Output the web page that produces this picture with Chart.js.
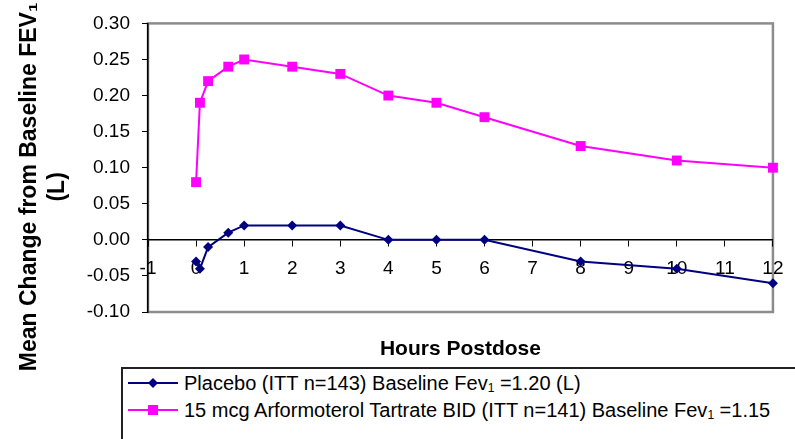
<!DOCTYPE html>
<html>
<head>
<meta charset="utf-8">
<script src="https://cdn.jsdelivr.net/npm/chart.js@4"></script>
<style>
  body { margin: 0; background: #fff; }
  #wrap { position: relative; width: 795px; height: 439px; overflow: hidden; }
  #legend {
    position: absolute; left: 121px; top: 367px; width: 720px; height: 100px;
    border: 2px solid #222; background: #fff;
    font-family: 'Liberation Sans', Arial, sans-serif; font-size: 20px; color: #000;
    padding-top: 1px;
  }
  #legend div { height: 27px; line-height: 27px; white-space: nowrap; }
  #legend svg { vertical-align: middle; margin: 0 6px 0 5px; position: relative; top: -2px; }
  #legend sub { font-size: 12px; vertical-align: -2px; }
</style>
</head>
<body>
<div id="wrap">
  <canvas id="lineChart" width="795" height="439"></canvas>
  <div id="legend"></div>
</div>
<script>
// hours after dose
var hours = [0, 0.08, 0.25, 0.67, 1, 2, 3, 4, 5, 6, 8, 10, 12];
var placebo = [-0.03, -0.04, -0.01, 0.01, 0.02, 0.02, 0.02, 0.00, 0.00, 0.00, -0.03, -0.04, -0.06];
var arformoterol = [0.08, 0.19, 0.22, 0.24, 0.25, 0.24, 0.23, 0.20, 0.19, 0.17, 0.13, 0.11, 0.10];
var seriesNames = [
    'Placebo (ITT n=143) Baseline Fev₁ =1.20 (L)',
    '15 mcg Arformoterol Tartrate BID (ITT n=141) Baseline Fev₁ =1.15'
];
var xMin = -1, xMax = 12, xStep = 1;
var yMin = -0.10, yMax = 0.30, yStep = 0.05;

function pts(ys) {
    return ys.map(function (v, i) { return { x: hours[i], y: v }; });
}

// grey frame around the plot area
var framePlugin = {
    id: 'frame',
    beforeDraw: function (chart) {
        var a = chart.chartArea, c = chart.ctx;
        c.save();
        c.strokeStyle = '#8c8c8c';
        c.lineWidth = 2.5;
        c.strokeRect(a.left, a.top, a.right - a.left, a.bottom - a.top);
        c.restore();
    }
};

var ctx = document.getElementById('lineChart').getContext('2d');
var myChart = new Chart(ctx, {
    type: 'line',
    data: {
        datasets: [
            {
                label: seriesNames[0],
                data: pts(placebo),
                borderColor: '#000080',
                backgroundColor: '#000080',
                borderWidth: 2,
                pointStyle: 'rectRot',
                pointRadius: 5,
                pointBorderWidth: 0,
                clip: false
            },
            {
                label: seriesNames[1],
                data: pts(arformoterol),
                borderColor: '#ff00ff',
                backgroundColor: '#ff00ff',
                borderWidth: 2,
                pointStyle: 'rect',
                pointRadius: 7,
                pointBorderWidth: 0,
                clip: false
            }
        ]
    },
    options: {
        responsive: false,
        animation: false,
        layout: { padding: { top: 22, right: 12, bottom: 127, left: 0 } },
        plugins: { legend: { display: false }, tooltip: { enabled: false } },
        scales: {
            x: {
                type: 'linear',
                position: { y: 0 },
                min: xMin, max: xMax,
                ticks: {
                    stepSize: xStep, autoSkip: false, maxRotation: 0, padding: 11.5,
                    color: '#000', font: { family: "'Liberation Sans', Arial, sans-serif", size: 19 }
                },
                grid: { drawOnChartArea: false, tickLength: 6, color: '#000' },
                border: { color: '#000', width: 1.5 },
                title: {
                    display: true, text: 'Hours Postdose', color: '#000',
                    font: { family: "'Liberation Sans', Arial, sans-serif", size: 21, weight: 'bold' },
                    padding: { top: 45, bottom: 0 }
                }
            },
            y: {
                min: yMin, max: yMax,
                afterFit: function (scale) { scale.width = 148; },
                ticks: {
                    stepSize: yStep, padding: 12, color: '#000',
                    font: { family: "'Liberation Sans', Arial, sans-serif", size: 19 },
                    callback: function (v) { return v.toFixed(2); }
                },
                grid: { drawOnChartArea: false, tickLength: 6, color: '#000' },
                border: { color: '#000', width: 1.5 },
                title: {
                    display: true, color: '#000',
                    // trailing spaces push the centred title down a little, like the original
                    text: ['Mean Change from Baseline FEV₁      ', '(L)      '],
                    font: { family: "'Liberation Sans', Arial, sans-serif", size: 23, weight: 'bold', lineHeight: 1.2 },
                    padding: { top: 16, bottom: 0 }
                }
            }
        }
    },
    plugins: [framePlugin]
});

// legend box under the chart
var markers = [
    '<polygon points="25,2 30,7 25,12 20,7" fill="#000080"/>',
    '<rect x="20" y="2" width="10" height="10" fill="#ff00ff"/>'
];
var lineColors = ['#000080', '#ff00ff'];
var html = '';
seriesNames.forEach(function (name, i) {
    html += '<div><svg width="50" height="14">' +
        '<line x1="0" y1="7" x2="50" y2="7" stroke="' + lineColors[i] + '" stroke-width="2"/>' +
        markers[i] + '</svg>' + name.replace('₁', '<sub>1</sub>') + '</div>';
});
document.getElementById('legend').innerHTML = html;
</script>
</body>
</html>
